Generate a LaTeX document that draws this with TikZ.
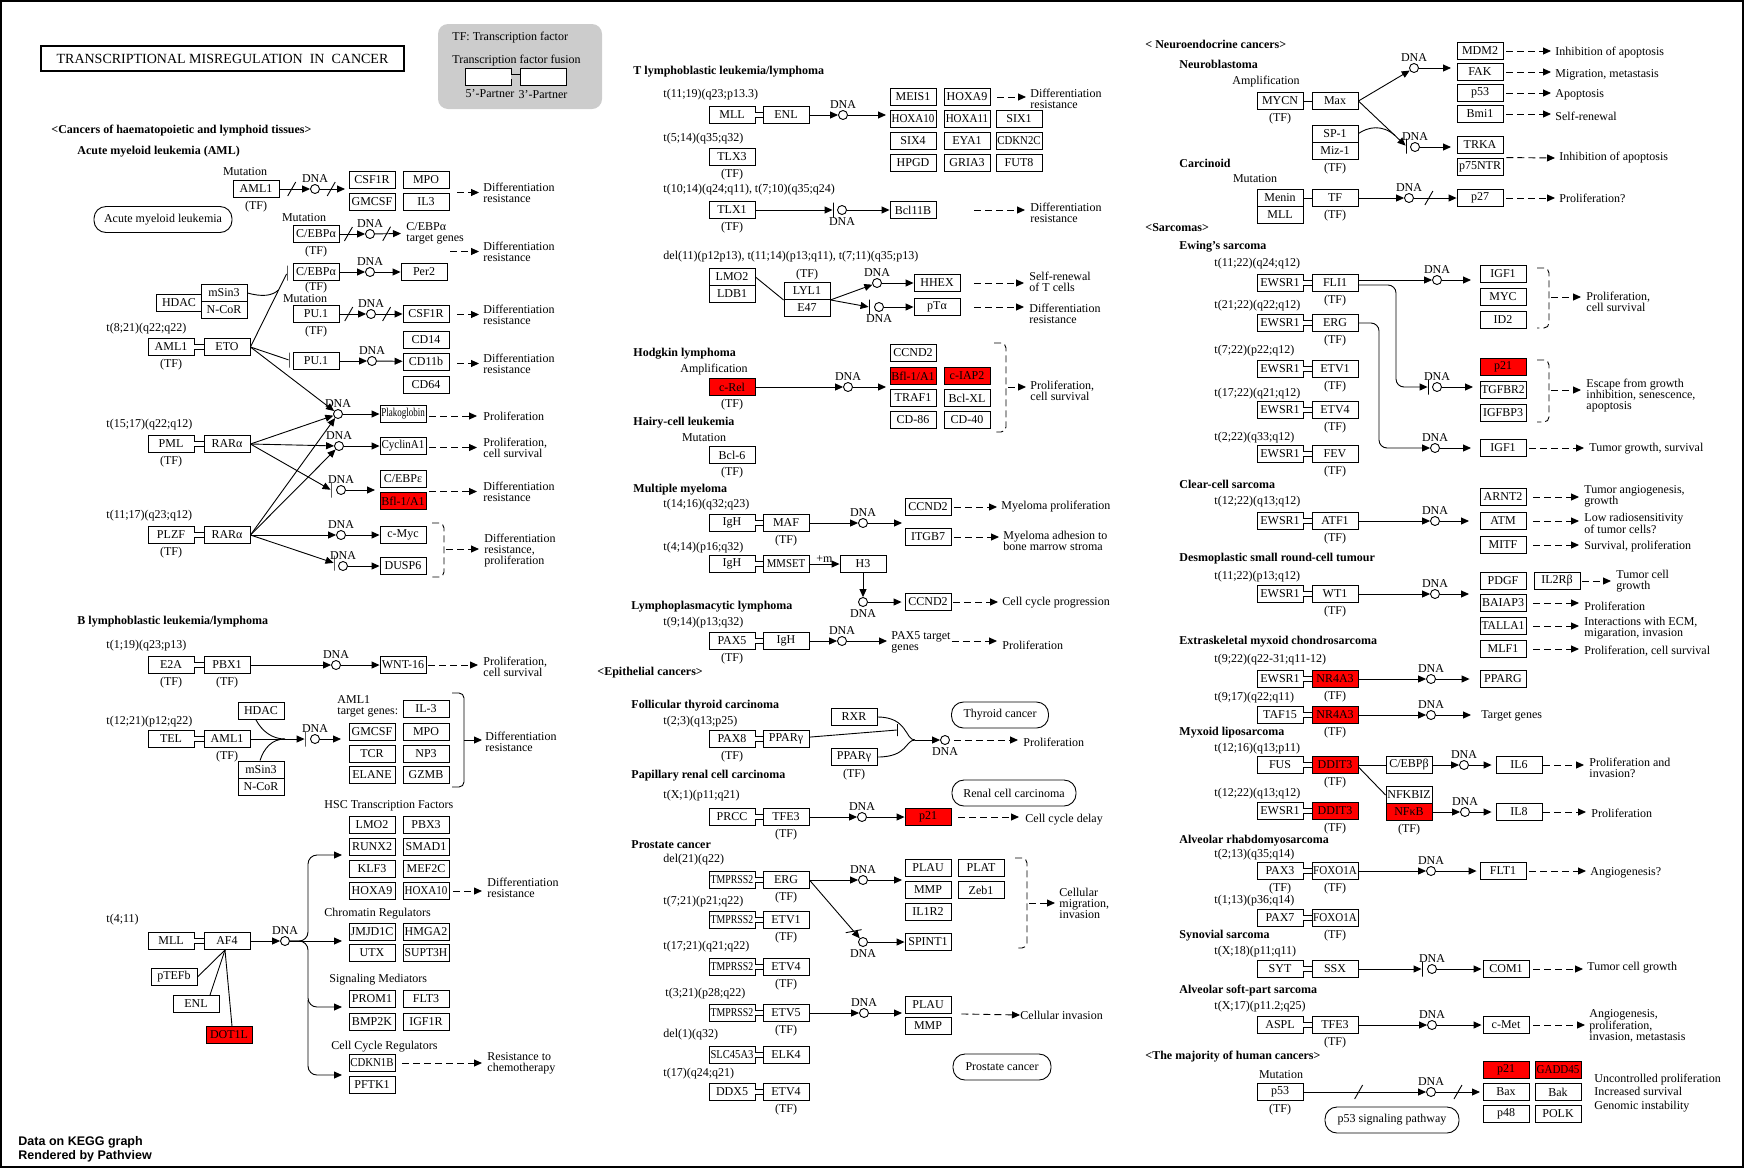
\documentclass[tikz,border=0pt]{standalone}
\usepackage{fontspec}
\setmainfont{Liberation Serif}
\newfontfamily\pvfont{Liberation Sans}
\usepackage{graphicx}
\usepackage{tikz}
\usetikzlibrary{arrows.meta, positioning, shapes.misc, decorations.markings}
\definecolor{hitred}{RGB}{255,0,0}
\definecolor{legendgray}{RGB}{204,204,204}
\newcommand{\sq}[2]{\scalebox{#1}[1]{#2}}

\begin{document}
\begin{tikzpicture}[x=1pt, y=-1pt, line width=0.9pt,
    gene/.style={draw, rectangle, minimum width=46, minimum height=17, inner sep=0, fill=white, font=\fontsize{12}{12}\selectfont},
    hit/.style={gene, fill=hitred},
    dna/.style={draw, circle, minimum size=9, inner sep=0, fill=white},
    dnaa/.style={dna, label={[ctxt, label distance=1]above:DNA}},
    dnab/.style={dna, label={[ctxt, label distance=2]below:DNA}},
    tf/.style={label={[ctxt, label distance=3]below:(TF)}},
    txt/.style={inner sep=0, anchor=west, align=left, font=\fontsize{12}{11}\selectfont},
    ctxt/.style={inner sep=0, align=center, font=\fontsize{12}{11}\selectfont},
    head/.style={inner sep=0, anchor=west, font=\fontsize{12}{12}\selectfont\bfseries},
    mapbox/.style={draw, rectangle, rounded corners=12, minimum height=26, inner sep=0, font=\fontsize{12}{12}\selectfont},
    vbar/.style={draw, rectangle, minimum width=0, minimum height=15, inner sep=0},
    arrow/.style={-{Triangle[length=8pt,width=7pt]}},
    pheno/.style={arrow, dash pattern=on 7pt off 4pt},
    fuse/.style={double, double distance=4},
    brk/.style={dash pattern=on 7pt off 4pt, rounded corners=5},
    slash/.style={postaction={decorate, decoration={markings, mark=at position #1 with {\draw[solid, -] (-4,7) -- (4,-7);}}}},
    slash/.default=0.5
]
\useasboundingbox (0,0) rectangle (1744,1168);
\draw[line width=2pt] (1,1) rectangle (1743,1167);

% Title and legend
\node[draw, line width=1.6pt, minimum width=363, minimum height=25, inner sep=0, font=\fontsize{14}{14}\selectfont] (title) at (222.5,58.5) {TRANSCRIPTIONAL MISREGULATION\ \ IN\ \ CANCER};
\node[fill=legendgray, rounded corners=10, minimum width=164, minimum height=85, inner sep=0] (legend) at (520,66.5) {};
\node[txt] (legtf) at (452,38) {TF: Transcription factor};
\node[txt] (legfu) at (452,61) {Transcription factor fusion};
\node[gene] (leg5) at (488,76.5) {};
\node[gene] (leg3) at (543,76.5) {};
\draw[fuse, double=legendgray] (leg5) -- (leg3);
\node[ctxt] (leg5t) at (490,94) {5\char39-Partner};
\node[ctxt] (leg3t) at (543,95) {3\char39-Partner};

% Acute myeloid leukemia
\node[head] (hemh) at (51,131) {<Cancers of haematopoietic and lymphoid tissues>};
\node[head] (amlh) at (77,152) {Acute myeloid leukemia (AML)};
\node[mapbox, minimum width=138] (amlmap) at (163,219.5) {Acute myeloid leukemia};
\node[ctxt] (mut1) at (245,172) {Mutation};
\node[gene, tf] (aml1a) at (256,189) {AML1};
\node[dnaa] (d1) at (315,189) {};
\coordinate (g1) at (345,189);
\node[gene] (csf1ra) at (372,180) {CSF1R};
\node[gene] (mpoa) at (426,180) {MPO};
\node[gene] (gmcsfa) at (372,202) {GMCSF};
\node[gene] (il3a) at (426,202) {IL3};
\node[txt] (dr1) at (483,192.5) {Differentiation\\resistance};
\draw[arrow, slash=0.4] (aml1a) -- (d1);
\draw[arrow, slash=0.45] (d1) -- (g1);
\draw[pheno] ([xshift=-26]dr1.west) -- ([xshift=-4]dr1.west);

\node[ctxt] (mut2) at (304,218) {Mutation};
\node[gene, tf] (cebpa1) at (316,234) {C/EBPα};
\node[dnaa] (d2) at (370,234) {};
\node[txt] (cebptg) at (406,233.5) {C/EBPα\\target genes};
\node[txt] (dr2) at (483,251.5) {Differentiation\\resistance};
\draw[arrow, slash=0.35] (cebpa1) -- (d2);
\draw[arrow, slash=0.45] (d2) -- ([xshift=-5]cebptg.west);
\draw[pheno] ([xshift=-33]dr2.west) -- ([xshift=-4]dr2.west);

\node[gene, label={[ctxt, label distance=0.5]below:(TF)}] (cebpa2) at (316,272) {C/EBPα};
\node[dnaa] (d3) at (370,272) {};
\node[gene] (per2) at (424,272) {Per2};
\draw[arrow] (cebpa2) -- (d3);
\draw[arrow] (d3) -- (per2);

\node[gene] (hdac1) at (179,302.5) {HDAC};
\node[gene] (msin3a) at (224,293) {mSin3};
\node[gene] (ncora) at (224,310) {N-CoR};

\node[txt] (t821) at (106,329) {t(8;21)(q22;q22)};
\node[gene, tf] (aml1b) at (171,347) {AML1};
\node[gene] (eto) at (227,347) {ETO};
\draw[fuse] (aml1b) -- (eto);
\node[vbar] (b1) at (287,273) {};
\draw (eto.east) -- (b1);
\coordinate (j1) at (278.5,290);
\draw (msin3a.east) .. controls (262,297) and (272,296) .. (j1);

\node[ctxt] (mut3) at (305,299) {Mutation};
\node[gene, tf] (pu1a) at (316,314) {PU.1};
\node[dnaa] (d4) at (371,314) {};
\node[gene] (csf1rb) at (426,314) {CSF1R};
\node[txt] (dr3) at (483,314.5) {Differentiation\\resistance};
\draw[arrow, slash=0.35] (pu1a) -- (d4);
\draw[arrow, slash=0.4] (d4) -- (csf1rb);
\draw[pheno] ([xshift=-26]dr3.west) -- ([xshift=-4]dr3.west);

\node[vbar] (b2) at (289,360) {};
\node[gene] (pu1b) at (316,361) {PU.1};
\node[dnaa] (d5) at (372,361) {};
\node[gene] (cd14) at (426,340) {CD14};
\node[gene] (cd11b) at (426,361.5) {CD11b};
\node[gene] (cd64) at (426,384.5) {CD64};
\node[txt] (dr4) at (483,363.5) {Differentiation\\resistance};
\draw (eto.east) -- (b2);
\draw[arrow] (pu1b) -- (d5);
\draw[arrow] (d5) -- (cd11b);
\draw[pheno] ([xshift=-26]dr4.west) -- ([xshift=-4]dr4.west);

\node[dnaa] (d6) at (338,414) {};
\node[gene] (plak) at (403,414) {\sq{0.75}{Plakoglobin}};
\node[txt] (prolif1) at (483,416) {Proliferation};
\draw[arrow] (eto.east) -- (d6);
\draw[arrow] (d6) -- (plak);
\draw[pheno] ([xshift=-54]prolif1.west) -- ([xshift=-6]prolif1.west);

\node[txt] (t1517) at (106,425) {t(15;17)(q22;q12)};
\node[gene, tf] (pml) at (171,444) {PML};
\node[gene] (rara1) at (227,444) {RARα};
\draw[fuse] (pml) -- (rara1);
\node[dnaa] (d7) at (339,446) {};
\node[gene] (cyca1) at (403,446) {\sq{0.92}{CyclinA1}};
\node[txt] (prolif2) at (483,447.5) {Proliferation,\\cell survival};
\node[vbar] (b3) at (331,490) {};
\node[dnaa] (d8) at (341,490) {};
\node[gene] (cebpe) at (403,479) {C/EBPε};
\node[hit] (bfl1a) at (403,501) {Bfl-1/A1};
\coordinate (g8) at (375,490);
\node[txt] (dr5) at (483,491.5) {Differentiation\\resistance};
\draw[arrow] (rara1.east) -- (d6);
\draw[arrow] (rara1.east) -- (d7);
\draw[arrow] (rara1.east) -- (b3);
\draw[arrow] (d7) -- (cyca1);
\draw[arrow] (d8) -- (g8);
\draw[pheno] ([xshift=-54]prolif2.west) -- ([xshift=-6]prolif2.west);
\draw[pheno] ([xshift=-54]dr5.west) -- ([xshift=-6]dr5.west);

\node[txt] (t1117) at (106,516) {t(11;17)(q23;q12)};
\node[gene, tf] (plzf) at (171,535) {PLZF};
\node[gene] (rara2) at (227,535) {RARα};
\draw[fuse] (plzf) -- (rara2);
\node[dnaa] (d9) at (341,535) {};
\node[gene] (cmyc) at (403,535) {c-Myc};
\node[vbar] (b4) at (334,563) {};
\node[dnaa] (d10) at (343,566) {};
\node[gene] (dusp6) at (403,566) {DUSP6};
\draw[arrow] (rara2.east) -- (d6);
\draw[arrow] (rara2.east) -- (d7);
\draw[arrow] (rara2.east) -- (d9);
\draw[arrow] (rara2.east) -- (b4);
\draw[arrow] (d9) -- (cmyc);
\draw[arrow] (d10) -- (dusp6);
\draw[brk] (432,523) -- (444,523) -- (444,577) -- (432,577);
\coordinate (br1) at (446,549);
\node[txt] (drp) at (484,551) {Differentiation\\resistance,\\proliferation};
\draw[pheno] (br1) -- ([xshift=-5]drp.west |- br1);

% B lymphoblastic leukemia
\node[head] (blh) at (77,622) {B lymphoblastic leukemia/lymphoma};
\node[txt] (t119) at (106,646) {t(1;19)(q23;p13)};
\node[gene, tf] (e2a) at (171,665) {E2A};
\node[gene, tf] (pbx1) at (227,665) {PBX1};
\draw[fuse] (e2a) -- (pbx1);
\node[dnaa] (d11) at (336,665) {};
\node[gene] (wnt16) at (403,665) {WNT-16};
\node[txt] (prolif3) at (483,666.5) {Proliferation,\\cell survival};
\draw[arrow] (pbx1) -- (d11);
\draw[arrow] (d11) -- (wnt16);
\draw[pheno] ([xshift=2]wnt16.east) -- ([xshift=-5]prolif3.west |- wnt16.east);

\node[txt] (t1221) at (106,722) {t(12;21)(p12;q22)};
\node[gene] (tel) at (171,739) {TEL};
\node[gene, tf] (aml1c) at (227,739) {AML1};
\draw[fuse] (tel) -- (aml1c);
\node[gene] (hdac2) at (261,711) {HDAC};
\node[gene] (msin3b) at (261,769.5) {mSin3};
\node[gene] (ncorb) at (261,786.5) {N-CoR};
\coordinate (j2) at (285,739);
\node[vbar] (b5) at (305,739) {};
\node[dnaa] (d12) at (315,739) {};
\coordinate (g12) at (341,739);
\draw (aml1c) -- (j2);
\draw ([xshift=-5]hdac2.south) .. controls (262,731) and (272,739) .. (j2);
\draw ([xshift=-1]msin3b.north) .. controls (264,748) and (272,739) .. (j2);
\draw[arrow] (j2) -- (b5);
\draw[arrow] (d12) -- (g12);
\node[txt] (aml1tg) at (337,706.5) {AML1\\target genes:};
\node[gene] (il3b) at (426,709) {IL-3};
\node[gene] (gmcsfb) at (372,732) {GMCSF};
\node[gene] (mpob) at (426,732) {MPO};
\node[gene] (tcr) at (372,754) {TCR};
\node[gene] (np3) at (426,754) {NP3};
\node[gene] (elane) at (372,775) {ELANE};
\node[gene] (gzmb) at (426,775) {GZMB};
\draw[rounded corners=5] (452,693) -- (464,693) -- (464,787) -- (452,787);
\coordinate (br6) at (464,740);
\node[txt] (dr6) at (485,741.5) {Differentiation\\resistance};
\draw[arrow] (br6) -- ([xshift=-3]dr6.west |- br6);

% HSC target genes of MLL-AF4
\node[txt] (hsctf) at (324,806) {HSC Transcription Factors};
\node[gene] (lmo2a) at (372,825) {LMO2};
\node[gene] (pbx3) at (426,825) {PBX3};
\node[gene] (runx2) at (372,847) {RUNX2};
\node[gene] (smad1) at (426,847) {SMAD1};
\node[gene] (klf3) at (372,869) {KLF3};
\node[gene] (mef2c) at (426,869) {MEF2C};
\node[gene] (hoxa9a) at (372,891) {HOXA9};
\node[gene] (hoxa10a) at (426,891) {\sq{0.92}{HOXA10}};
\node[txt] (dr7) at (487,887.5) {Differentiation\\resistance};
\draw[pheno] ([xshift=4]hoxa10a.east) -- ([xshift=-5]dr7.west |- hoxa10a.east);
\node[txt] (chrom) at (324,914) {Chromatin Regulators};
\node[gene] (jmjd1c) at (372,932) {JMJD1C};
\node[gene] (hmga2) at (426,932) {HMGA2};
\node[gene] (utx) at (372,953) {UTX};
\node[gene] (supt3h) at (426,953) {\sq{0.97}{SUPT3H}};
\node[txt] (sigm) at (329,980) {Signaling Mediators};
\node[gene] (prom1) at (372,999) {PROM1};
\node[gene] (flt3) at (426,999) {FLT3};
\node[gene] (bmp2k) at (372,1022) {BMP2K};
\node[gene] (igf1r) at (426,1022) {IGF1R};
\node[txt] (ccreg) at (331,1047) {Cell Cycle Regulators};
\node[gene] (cdkn1b) at (372,1063) {\sq{0.9}{CDKN1B}};
\node[gene] (pftk1) at (372,1085) {PFTK1};
\node[txt] (rtc) at (487,1063.5) {Resistance to\\chemotherapy};
\draw[pheno] ([xshift=7]cdkn1b.east) -- ([xshift=-5]rtc.west |- cdkn1b.east);

\node[txt] (t411) at (106,920) {t(4;11)};
\node[gene] (mllb) at (171,941) {MLL};
\node[gene] (af4) at (227,941) {AF4};
\draw[fuse] (mllb) -- (af4);
\node[gene] (ptefb) at (174,977) {pTEFb};
\node[gene] (enla) at (196,1004) {ENL};
\node[hit] (dot1l) at (229,1035) {DOT1L};
\draw ([xshift=-2]af4.south) -- (ptefb.east);
\draw ([xshift=-2]af4.south) -- ([xshift=14]enla.north);
\draw ([xshift=-2]af4.south) -- ([xshift=3]dot1l.north);
\node[dnaa] (d13) at (285,941) {};
\coordinate (hscin) at (342,855);
\coordinate (chin) at (342,941);
\coordinate (sigin) at (342,1007);
\coordinate (ccin) at (342,1075);
\draw[arrow] (af4) -- (d13);
\draw[arrow] (d13) -- (chin);
\draw[arrow, rounded corners=9] (d13.east) -- (308,941) -- (308,855) -- (hscin);
\draw[arrow, rounded corners=9] (d13.east) -- (308,941) -- (308,1007) -- (sigin);
\draw[arrow, rounded corners=9] (308,1000) -- (308,1075) -- (ccin);

% T lymphoblastic leukemia
\node[head] (tllh) at (633,72) {T lymphoblastic leukemia/lymphoma};
\node[txt] (t1119) at (663,95) {t(11;19)(q23;p13.3)};
\node[gene] (mllc) at (732,115) {MLL};
\node[gene] (enlb) at (786,115) {ENL};
\draw[fuse] (mllc) -- (enlb);
\node[dnaa] (d14) at (843,115) {};
\coordinate (g14) at (886,115);
\draw[arrow] (enlb) -- (d14);
\draw[arrow] (d14) -- (g14);
\node[gene] (meis1) at (913,97) {MEIS1};
\node[gene] (hoxa9b) at (967,97) {HOXA9};
\node[gene] (hoxa10b) at (913,119) {\sq{0.92}{HOXA10}};
\node[gene] (hoxa11) at (967,119) {\sq{0.92}{HOXA11}};
\node[gene] (six1) at (1019,119) {SIX1};
\node[gene] (six4) at (913,141) {SIX4};
\node[gene] (eya1) at (967,141) {EYA1};
\node[gene] (cdkn2c) at (1019,141) {\sq{0.9}{CDKN2C}};
\node[gene] (hpgd) at (913,163) {HPGD};
\node[gene] (gria3) at (967,163) {GRIA3};
\node[gene] (fut8) at (1019,163) {FUT8};
\node[txt] (dr8) at (1030,98.5) {Differentiation\\resistance};
\draw[pheno] ([xshift=7]hoxa9b.east) -- ([xshift=-4]dr8.west |- hoxa9b.east);
\node[txt] (t514) at (663,139) {t(5;14)(q35;q32)};
\node[gene, tf] (tlx3) at (732,157) {TLX3};
\node[txt] (t1014) at (663,190) {t(10;14)(q24;q11), t(7;10)(q35;q24)};
\node[gene, tf] (tlx1) at (732,210) {TLX1};
\node[vbar] (b7) at (833,210) {};
\node[dnab] (d15) at (842,210) {};
\node[gene] (bcl11b) at (913,210) {Bcl11B};
\draw[arrow] (tlx1) -- (b7);
\draw[arrow] (d15) -- (bcl11b);
\node[txt] (dr9) at (1030,212.5) {Differentiation\\resistance};
\draw[pheno] ([xshift=-56]dr9.west |- bcl11b) -- ([xshift=-5]dr9.west |- bcl11b);
\node[txt] (del11) at (663,257) {del(11)(p12p13), t(11;14)(p13;q11), t(7;11)(q35;p13)};
\node[gene] (lmo2b) at (732,277) {LMO2};
\node[gene] (ldb1) at (732,294) {LDB1};
\node[gene, label={[ctxt, label distance=2]above:(TF)}] (lyl1) at (807,291) {LYL1};
\node[gene] (e47) at (807,308) {E47};
\draw (lmo2b.east) -- (lyl1.south west);
\node[dnaa] (d16) at (877,283) {};
\node[gene] (hhex) at (937,283) {HHEX};
\draw[arrow] (lyl1.south east) -- (d16);
\draw[arrow] (d16) -- (hhex);
\node[txt] (selfren) at (1029,281.5) {Self-renewal\\of T cells};
\draw[pheno] ([xshift=-55]selfren.west |- hhex) -- ([xshift=-5]selfren.west |- hhex);
\node[vbar] (b8) at (869,307) {};
\node[dnab] (d17) at (879,307) {};
\node[gene] (pta) at (937,307) {pTα};
\draw[arrow] (lyl1.south east) -- (b8);
\draw[arrow] (d17) -- (pta);
\node[txt] (dr10) at (1029,313.5) {Differentiation\\resistance};
\draw[pheno] ([xshift=14]pta.east) -- ([xshift=-5]dr10.west |- pta.east);

% Hodgkin lymphoma, hairy-cell leukemia
\node[head] (hodh) at (633,354) {Hodgkin lymphoma};
\node[ctxt] (amp1) at (714,370) {Amplification};
\node[hit, tf] (crel) at (732,387) {c-Rel};
\node[dnaa] (d18) at (848,387) {};
\coordinate (g18) at (886,387);
\draw[arrow] (crel) -- (d18);
\draw[arrow] (d18) -- (g18);
\node[gene] (ccnd2a) at (913,353) {CCND2};
\node[hit] (bfl1b) at (913,376) {Bfl-1/A1};
\node[hit] (ciap2) at (967,376) {c-IAP2};
\node[gene] (traf1) at (913,398) {TRAF1};
\node[gene] (bclxl) at (967,398) {Bcl-XL};
\node[gene] (cd86) at (913,420) {CD-86};
\node[gene] (cd40) at (967,420) {CD-40};
\draw[brk] (994,343) -- (1006,343) -- (1006,432) -- (994,432);
\coordinate (br2) at (1008,387);
\node[txt] (prolif4) at (1030,390.5) {Proliferation,\\cell survival};
\draw[pheno] (br2) -- ([xshift=-4]prolif4.west |- br2);
\node[head] (hclh) at (633,423) {Hairy-cell leukemia};
\node[ctxt] (mut4) at (704,438) {Mutation};
\node[gene, tf] (bcl6) at (732,455) {Bcl-6};

% Multiple myeloma
\node[head] (mmh) at (633,490) {Multiple myeloma};
\node[txt] (t1416) at (663,505) {t(14;16)(q32;q23)};
\node[gene] (igha) at (732,523) {IgH};
\node[gene, tf] (maf) at (786,523) {MAF};
\draw[fuse] (igha) -- (maf);
\node[dnaa] (d19) at (863,523) {};
\coordinate (g19) at (902,523);
\draw[arrow] (maf) -- (d19);
\draw[arrow] (d19) -- (g19);
\node[gene] (ccnd2b) at (928,507) {CCND2};
\node[gene] (itgb7) at (928,537) {ITGB7};
\node[txt] (myp) at (1001,507) {Myeloma proliferation};
\node[txt] (mya) at (1003,540.5) {Myeloma adhesion to\\bone marrow stroma};
\draw[pheno] ([xshift=3]ccnd2b.east) -- ([xshift=-4]myp.west);
\draw[pheno] ([xshift=3]itgb7.east) -- ([xshift=-4]mya.west |- itgb7.east);
\node[txt] (t414) at (663,548) {t(4;14)(p16;q32)};
\node[gene] (ighb) at (732,564) {IgH};
\node[gene] (mmset) at (786,564) {\sq{0.9}{MMSET}};
\draw[fuse] (ighb) -- (mmset);
\node[gene] (h3) at (863,564) {H3};
\draw[arrow] (mmset) -- node[ctxt, above=1pt] (plusm) {+m} (h3);
\node[dnab] (d20) at (863,602) {};
\draw[arrow] (h3) -- (d20);
\node[gene] (ccnd2c) at (928,602) {CCND2};
\draw[arrow] (d20) -- ([xshift=-3]ccnd2c.west);
\node[txt] (ccp) at (1002,603) {Cell cycle progression};
\draw[pheno] ([xshift=2]ccnd2c.east) -- ([xshift=-4]ccp.west |- ccnd2c.east);

% Lymphoplasmacytic lymphoma
\node[head] (lplh) at (631,607) {Lymphoplasmacytic lymphoma};
\node[txt] (t914) at (663,623) {t(9;14)(p13;q32)};
\node[gene, tf] (pax5) at (732,641) {PAX5};
\node[gene] (ighc) at (786,641) {IgH};
\draw[fuse] (pax5) -- (ighc);
\node[dnaa] (d21) at (842,641) {};
\node[txt] (pax5tg) at (891,642.5) {PAX5 target\\genes};
\draw[arrow] (ighc) -- (d21);
\draw[arrow] (d21) -- ([xshift=-4]pax5tg.west |- d21);
\node[txt] (prolif5) at (1002,645) {Proliferation};
\draw[pheno] ([xshift=1]pax5tg.east |- d21) -- ([xshift=-5]prolif5.west |- d21);

% Epithelial cancers
\node[head] (epih) at (597,673) {<Epithelial cancers>};
\node[head] (fth) at (631,706) {Follicular thyroid carcinoma};
\node[txt] (t23) at (663,722) {t(2;3)(q13;p25)};
\node[gene, tf] (pax8) at (732,739) {PAX8};
\node[gene] (pparg1) at (786,739) {PPARγ};
\draw[fuse] (pax8) -- (pparg1);
\node[gene] (rxr) at (854,717) {RXR};
\node[gene, tf] (pparg2) at (854,757) {PPARγ};
\node[vbar, minimum height=12] (b9) at (897,730) {};
\draw (pparg1) -- (b9);
\coordinate (j3) at (915,740);
\draw (rxr.east) .. controls (908,717) and (905,740) .. (j3);
\draw (pparg2.east) .. controls (908,757) and (905,740) .. (j3);
\node[dnab] (d22) at (945,740) {};
\draw[arrow] (j3) -- (d22);
\node[txt] (prolif6) at (1023,742) {Proliferation};
\draw[pheno] ([xshift=4]d22.east) -- ([xshift=-5]prolif6.west |- d22);
\node[mapbox, minimum width=97] (thyr) at (1000,715) {Thyroid cancer};

\node[head] (prh) at (631,776) {Papillary renal cell carcinoma};
\node[txt] (tx1) at (663,796) {t(X;1)(p11;q21)};
\node[gene] (prcc) at (732,817) {PRCC};
\node[gene, tf] (tfe3a) at (786,817) {TFE3};
\draw[fuse] (prcc) -- (tfe3a);
\node[dnaa] (d23) at (862,817) {};
\node[hit] (p21a) at (928,817) {p21};
\draw[arrow] (tfe3a) -- (d23);
\draw[arrow] (d23) -- (p21a);
\node[txt] (ccd) at (1025,820) {Cell cycle delay};
\draw[pheno] ([xshift=7]p21a.east) -- ([xshift=-6]ccd.west |- p21a);
\node[mapbox, minimum width=124] (renal) at (1014,793) {Renal cell carcinoma};

\node[head] (pch) at (631,845) {Prostate cancer};
\node[txt] (del21) at (663,860) {del(21)(q22)};
\node[gene] (tmp1) at (732,880) {\sq{0.82}{TMPRSS2}};
\node[gene, tf] (erga) at (786,880) {ERG};
\draw[fuse] (tmp1) -- (erga);
\node[dnaa] (d24) at (863,880) {};
\coordinate (g24) at (902,880);
\draw[arrow] (erga) -- (d24);
\draw[arrow] (d24) -- (g24);
\node[gene] (plau1) at (928,868) {PLAU};
\node[gene] (plat) at (981,868) {PLAT};
\node[gene] (mmp1) at (928,890) {MMP};
\node[gene] (zeb1) at (981,890) {Zeb1};
\node[gene] (il1r2) at (928,912) {IL1R2};
\node[dnab] (d25) at (863,942) {};
\draw[arrow, slash=0.88] (erga.east) -- (d25);
\node[gene] (spint1) at (928,942) {SPINT1};
\draw[arrow] (d25) -- (spint1);
\draw[brk] (1015,858) -- (1027,858) -- (1027,948) -- (1015,948);
\coordinate (br5) at (1029,903);
\node[txt] (cmi) at (1059,903) {Cellular\\migration,\\invasion};
\draw[pheno] (br5) -- ([xshift=-4]cmi.west);
\node[txt] (t721) at (663,902) {t(7;21)(p21;q22)};
\node[gene] (tmp2) at (732,920) {\sq{0.82}{TMPRSS2}};
\node[gene, tf] (etv1a) at (786,920) {ETV1};
\node[txt] (t1721) at (663,947) {t(17;21)(q21;q22)};
\node[gene] (tmp3) at (732,967) {\sq{0.82}{TMPRSS2}};
\node[gene, tf] (etv4a) at (786,967) {ETV4};
\node[txt] (t321) at (665,994) {t(3;21)(p28;q22)};
\node[gene] (tmp4) at (732,1013) {\sq{0.82}{TMPRSS2}};
\node[gene, tf] (etv5) at (786,1013) {ETV5};
\node[dnaa] (d26) at (864,1013) {};
\coordinate (g26) at (902,1013);
\draw[arrow] (etv5) -- (d26);
\draw[arrow] (d26) -- (g26);
\node[gene] (plau2) at (928,1005) {PLAU};
\node[gene] (mmp2) at (928,1026) {MMP};
\node[txt] (cinv) at (1020,1015) {Cellular invasion};
\draw[pheno] ([xshift=10]plau2.south east) -- (cinv.west);
\node[txt] (del1) at (663,1035) {del(1)(q32)};
\node[gene] (slc45a3) at (732,1055) {\sq{0.88}{SLC45A3}};
\node[gene] (elk4) at (786,1055) {ELK4};
\node[txt] (t17) at (663,1074) {t(17)(q24;q21)};
\node[gene] (ddx5) at (732,1092) {DDX5};
\node[gene, tf] (etv4b) at (786,1092) {ETV4};
\foreach \a/\b in {tmp2/etv1a, tmp3/etv4a, tmp4/etv5, slc45a3/elk4, ddx5/etv4b}
  \draw[fuse] (\a) -- (\b);
\node[mapbox, minimum width=98] (prost) at (1002,1067) {Prostate cancer};

% Neuroendocrine cancers
\node[head] (neh) at (1145,44) {< Neuroendocrine cancers>};
\node[head] (nbh) at (1179,64) {Neuroblastoma};
\node[ctxt] (amp2) at (1266,82) {Amplification};
\node[gene, tf] (mycn) at (1280,101) {MYCN};
\node[gene] (max) at (1335,101) {Max};
\draw (mycn) -- (max);
\node[gene] (sp1) at (1335,133.5) {SP-1};
\node[gene, tf] (miz1) at (1335,150.5) {Miz-1};
\node[dnaa] (d27) at (1414,68) {};
\node[vbar] (b10) at (1406,146) {};
\node[dnaa] (d28) at (1415,147) {};
\draw[arrow] (max.east) -- (d27);
\draw[arrow] (max.east) -- (b10);
\coordinate (j4) at (1395,135.5);
\draw (sp1.east) .. controls (1368,127) and (1382,124) .. (j4);
\node[gene] (mdm2) at (1480,51) {MDM2};
\node[gene] (fak) at (1480,72) {FAK};
\node[gene] (p53a) at (1480,93) {p53};
\node[gene] (bmi1) at (1480,114) {Bmi1};
\coordinate (g27) at (1451,68);
\draw[arrow] (d27) -- (g27);
\node[txt] (ia1) at (1555,53) {Inhibition of apoptosis};
\node[txt] (mmt) at (1555,75) {Migration, metastasis};
\node[txt] (apo) at (1555,95) {Apoptosis};
\node[txt] (sren) at (1555,116) {Self-renewal};
\foreach \g/\t in {mdm2/ia1, fak/mmt, p53a/apo, bmi1/sren}
  \draw[pheno] ([xshift=3]\g.east) -- ([xshift=-4]\t.west |- \g.east);
\node[gene] (trka) at (1480,144.5) {TRKA};
\node[gene] (p75ntr) at (1480,166.5) {p75NTR};
\coordinate (g28) at (1451,147);
\draw[arrow] (d28) -- (g28);
\node[txt] (ia2) at (1559,158) {Inhibition of apoptosis};
\draw[pheno] ([xshift=3]p75ntr.north east) -- ([xshift=-4]ia2.west);

\node[head] (carh) at (1179,163) {Carcinoid};
\node[ctxt] (mut5) at (1255,179) {Mutation};
\node[gene] (menin) at (1280,198) {Menin};
\node[gene] (mlld) at (1280,215) {MLL};
\node[gene, tf] (tfb) at (1335,198) {TF};
\draw (menin) -- (tfb);
\node[dnaa] (d29) at (1409,198) {};
\node[gene] (p27) at (1480,198) {p27};
\draw[arrow] (tfb) -- (d29);
\draw[arrow, slash=0.35] (d29) -- (p27);
\node[txt] (prq) at (1559,198) {Proliferation?};
\draw[pheno] ([xshift=3]p27.east) -- ([xshift=-4]prq.west);

% Sarcomas
\node[head] (sarh) at (1145,228) {<Sarcomas>};
\node[head] (ewh) at (1179,247) {Ewing\char39s sarcoma};
\node[txt] (t1122a) at (1214,264) {t(11;22)(q24;q12)};
\node[gene] (ews1) at (1280,283) {EWSR1};
\node[gene, tf] (fli1) at (1335,283) {FLI1};
\draw[fuse] (ews1) -- (fli1);
\node[dnaa] (d30) at (1437,280) {};
\coordinate (g30) at (1471,280);
\node[gene] (igf1a) at (1503,274) {IGF1};
\node[gene] (myc) at (1503,297) {MYC};
\node[gene] (id2) at (1503,320) {ID2};
\draw[arrow] ([yshift=3]fli1.east) -- (d30);
\draw[arrow] (d30) -- (g30);
\draw[brk] (1537,268) -- (1549,268) -- (1549,328) -- (1537,328);
\coordinate (br3) at (1551,297);
\node[txt] (pcs1) at (1586,301.5) {Proliferation,\\cell survival};
\draw[pheno] (br3) -- ([xshift=-5]pcs1.west |- br3);

\node[vbar] (b11) at (1428,387) {};
\node[dnaa] (d31) at (1437,387) {};
\draw[arrow, rounded corners=8] ([yshift=-2]fli1.east) -- (1396,285) -- (1396,387) -- (b11);
\node[hit] (p21b) at (1503,367) {p21};
\node[gene] (tgfbr2) at (1503,390) {\sq{0.97}{TGFBR2}};
\node[gene] (igfbp3) at (1503,413) {IGFBP3};
\coordinate (g31) at (1473,387);
\draw[arrow] (d31) -- (g31);
\draw[brk] (1537,360) -- (1549,360) -- (1549,422) -- (1537,422);
\coordinate (br4) at (1551,390);
\node[txt] (esc) at (1586,396) {Escape from growth\\inhibition, senescence,\\apoptosis};
\draw[pheno] (br4) -- ([xshift=-5]esc.west |- br4);

\node[txt] (t2122) at (1214,306) {t(21;22)(q22;q12)};
\node[gene] (ews2) at (1280,323) {EWSR1};
\node[gene, tf] (erg2) at (1335,323) {ERG};
\draw[fuse] (ews2) -- (erg2);
\node[dnaa] (d32) at (1435,448) {};
\draw[arrow, rounded corners=8] (erg2.east) -- (1379,323) -- (1379,448) -- (d32);
\node[gene] (igf1b) at (1503,448) {IGF1};
\coordinate (g32) at (1471,448);
\draw[arrow] (d32) -- (g32);
\node[txt] (tgs) at (1589,449) {Tumor growth, survival};
\draw[pheno] ([xshift=3]igf1b.east) -- ([xshift=-5]tgs.west |- igf1b.east);
\node[txt] (t722) at (1214,351) {t(7;22)(p22;q12)};
\node[gene] (ews3) at (1280,369) {EWSR1};
\node[gene, tf] (etv1b) at (1335,369) {ETV1};
\node[txt] (t1722) at (1214,394) {t(17;22)(q21;q12)};
\node[gene] (ews4) at (1280,410) {EWSR1};
\node[gene, tf] (etv4c) at (1335,410) {ETV4};
\node[txt] (t222) at (1214,438) {t(2;22)(q33;q12)};
\node[gene] (ews5) at (1280,454) {EWSR1};
\node[gene, tf] (fev) at (1335,454) {FEV};
\foreach \a/\b in {ews3/etv1b, ews4/etv4c, ews5/fev}
  \draw[fuse] (\a) -- (\b);

\node[head] (cch) at (1179,484) {Clear-cell sarcoma};
\node[txt] (t1222a) at (1214,502) {t(12;22)(q13;q12)};
\node[gene] (ews6) at (1280,521) {EWSR1};
\node[gene, tf] (atf1) at (1335,521) {ATF1};
\draw[fuse] (ews6) -- (atf1);
\node[dnaa] (d33) at (1435,521) {};
\coordinate (g33) at (1469,521);
\draw[arrow] (atf1) -- (d33);
\draw[arrow] (d33) -- (g33);
\node[gene] (arnt2) at (1503,497) {ARNT2};
\node[gene] (atm) at (1503,521) {ATM};
\node[gene] (mitf) at (1503,545) {MITF};
\node[txt] (tag) at (1584,496.5) {Tumor angiogenesis,\\growth};
\node[txt] (lrs) at (1584,523.5) {Low radiosensitivity\\of tumor cells?};
\node[txt] (svp) at (1584,547) {Survival, proliferation};
\foreach \g/\t in {arnt2/tag, atm/lrs, mitf/svp}
  \draw[pheno] ([xshift=7]\g.east) -- ([xshift=-5]\t.west |- \g.east);

\node[head] (dsh) at (1179,559) {Desmoplastic small round-cell tumour};
\node[txt] (t1122b) at (1214,577) {t(11;22)(p13;q12)};
\node[gene] (ews7) at (1280,594) {EWSR1};
\node[gene, tf] (wt1) at (1335,594) {WT1};
\draw[fuse] (ews7) -- (wt1);
\node[dnaa] (d34) at (1435,594) {};
\coordinate (g34) at (1469,594);
\draw[arrow] (wt1) -- (d34);
\draw[arrow] (d34) -- (g34);
\node[gene] (pdgf) at (1503,581) {PDGF};
\node[gene] (il2rb) at (1557,581) {IL2Rβ};
\node[gene] (baiap3) at (1503,603) {BAIAP3};
\node[gene] (talla1) at (1503,626) {\sq{0.97}{TALLA1}};
\node[gene] (mlf1) at (1503,649) {MLF1};
\node[txt] (tcg1) at (1616,581.5) {Tumor cell\\growth};
\node[txt] (prol7) at (1584,606) {Proliferation};
\node[txt] (iecm) at (1584,628.5) {Interactions with ECM,\\migaration, invasion};
\node[txt] (pcs2) at (1584,651) {Proliferation, cell survival};
\draw[pheno] ([xshift=2]il2rb.east) -- ([xshift=-5]tcg1.west |- il2rb.east);
\foreach \g/\t in {baiap3/prol7, talla1/iecm, mlf1/pcs2}
  \draw[pheno] ([xshift=7]\g.east) -- ([xshift=-5]\t.west |- \g.east);

\node[head] (emch) at (1179,642) {Extraskeletal myxoid chondrosarcoma};
\node[txt] (t922) at (1214,660) {t(9;22)(q22-31;q11-12)};
\node[gene] (ews8) at (1280,679) {EWSR1};
\node[hit, tf] (nr4a3a) at (1335,679) {NR4A3};
\draw[fuse] (ews8) -- (nr4a3a);
\node[dnaa] (d35) at (1431,679) {};
\node[gene] (pparg3) at (1503,679) {PPARG};
\draw[arrow] (nr4a3a) -- (d35);
\draw[arrow] (d35) -- ([xshift=-10]pparg3.west);
\node[txt] (t917) at (1214,698) {t(9;17)(q22;q11)};
\node[gene] (taf15) at (1280,715) {TAF15};
\node[hit, tf] (nr4a3b) at (1335,715) {NR4A3};
\draw[fuse] (taf15) -- (nr4a3b);
\node[dnaa] (d36) at (1431,715) {};
\node[txt] (tgen) at (1481,716) {Target genes};
\draw[arrow] (nr4a3b) -- (d36);
\draw[arrow] (d36) -- ([xshift=-10]tgen.west |- d36);

\node[head] (mlh) at (1179,733) {Myxoid liposarcoma};
\node[txt] (t1216) at (1214,749) {t(12;16)(q13;p11)};
\node[gene] (fus) at (1280,765) {FUS};
\node[hit, tf] (ddit3a) at (1335,765) {DDIT3};
\draw[fuse] (fus) -- (ddit3a);
\node[gene] (cebpb) at (1409,765) {C/EBPβ};
\draw (ddit3a) -- (cebpb);
\node[dnaa] (d37) at (1464,765) {};
\node[gene] (il6) at (1519,765) {IL6};
\draw[arrow] (cebpb) -- (d37);
\draw[arrow] (d37) -- ([xshift=-4]il6.west);
\node[txt] (pai) at (1589,767.5) {Proliferation and\\invasion?};
\draw[pheno] ([xshift=1]il6.east) -- ([xshift=-5]pai.west |- il6.east);
\node[gene] (nfkbiz) at (1409,795) {NFKBIZ};
\node[hit, tf] (nfkb) at (1409,812) {NFκB};
\draw ([yshift=-2]ddit3a.east) -- (nfkbiz.west);
\node[txt] (t1222b) at (1214,794) {t(12;22)(q13;q12)};
\node[gene] (ews9) at (1280,811) {EWSR1};
\node[hit, tf] (ddit3b) at (1335,811) {DDIT3};
\draw[fuse] (ews9) -- (ddit3b);
\node[dnaa] (d38) at (1465,812) {};
\node[gene] (il8) at (1519,812) {IL8};
\draw[arrow] (nfkb) -- (d38);
\draw[arrow] (d38) -- ([xshift=-4]il8.west);
\node[txt] (prol8) at (1591,813) {Proliferation};
\draw[pheno] ([xshift=1]il8.east) -- ([xshift=-5]prol8.west |- il8.east);

\node[head] (armh) at (1179,841) {Alveolar rhabdomyosarcoma};
\node[txt] (t213) at (1214,855) {t(2;13)(q35;q14)};
\node[gene, tf] (pax3) at (1280,871) {PAX3};
\node[gene, tf] (foxo1a) at (1335,871) {\sq{0.92}{FOXO1A}};
\draw[fuse] (pax3) -- (foxo1a);
\node[dnaa] (d39) at (1431,871) {};
\node[gene] (flt1) at (1503,871) {FLT1};
\draw[arrow] (foxo1a) -- (d39);
\draw[arrow] (d39) -- ([xshift=-3]flt1.west);
\node[txt] (angq) at (1590,873) {Angiogenesis?};
\draw[pheno] ([xshift=3]flt1.east) -- ([xshift=-4]angq.west |- flt1.east);
\node[txt] (t113) at (1214,901) {t(1;13)(p36;q14)};
\node[gene] (pax7) at (1280,918) {PAX7};
\node[gene, tf] (foxo1b) at (1335,918) {\sq{0.92}{FOXO1A}};
\draw[fuse] (pax7) -- (foxo1b);

\node[head] (svh) at (1179,936) {Synovial sarcoma};
\node[txt] (tx18) at (1214,952) {t(X;18)(p11;q11)};
\node[gene] (syt) at (1280,969) {SYT};
\node[gene] (ssx) at (1335,969) {SSX};
\draw[fuse] (syt) -- (ssx);
\node[vbar] (b12) at (1422,969) {};
\node[dnaa] (d40) at (1432,969) {};
\node[gene] (com1) at (1506,969) {COM1};
\draw[arrow] (ssx) -- (b12);
\draw[arrow] (d40) -- ([xshift=-1]com1.west);
\node[txt] (tcg2) at (1587,968) {Tumor cell growth};
\draw[pheno] ([xshift=4]com1.east) -- ([xshift=-4]tcg2.west |- com1.east);

\node[head] (asph) at (1179,991) {Alveolar soft-part sarcoma};
\node[txt] (tx17) at (1214,1007) {t(X;17)(p11.2;q25)};
\node[gene] (aspl) at (1280,1025) {ASPL};
\node[gene, tf] (tfe3b) at (1335,1025) {TFE3};
\draw[fuse] (aspl) -- (tfe3b);
\node[dnaa] (d41) at (1432,1025) {};
\node[gene] (cmet) at (1506,1025) {c-Met};
\draw[arrow] (tfe3b) -- (d41);
\draw[arrow] (d41) -- ([xshift=-1]cmet.west);
\node[txt] (apim) at (1589,1026) {Angiogenesis,\\proliferation,\\invasion, metastasis};
\draw[pheno] ([xshift=4]cmet.east) -- ([xshift=-4]apim.west |- cmet.east);

% The majority of human cancers
\node[head] (majh) at (1145,1057) {<The majority of human cancers>};
\node[ctxt] (mut6) at (1281,1075) {Mutation};
\node[gene, tf] (p53b) at (1280,1092) {p53};
\node[dnaa] (d42) at (1431,1092) {};
\coordinate (g42) at (1480,1092);
\draw[arrow, slash=0.45] (p53b) -- (d42);
\draw[arrow, slash=0.5] (d42) -- (g42);
\node[hit] (p21c) at (1506,1070) {p21};
\node[hit] (gadd45) at (1558,1070) {\sq{0.92}{GADD45}};
\node[gene] (bax) at (1506,1092) {Bax};
\node[gene] (bak) at (1558,1092) {Bak};
\node[gene] (p48) at (1506,1114) {p48};
\node[gene] (polk) at (1558,1114) {POLK};
\node[txt, font=\fontsize{12}{13.5}\selectfont] (outc) at (1594,1093) {Uncontrolled proliferation\\Increased survival\\Genomic instability};
\node[mapbox, minimum width=134] (p53map) at (1392,1120) {p53 signaling pathway};

\node[txt, font=\pvfont\bfseries\fontsize{12.5}{14}\selectfont] (pv) at (18,1149) {Data on KEGG graph\\Rendered by Pathview};
\end{tikzpicture}
\end{document}
